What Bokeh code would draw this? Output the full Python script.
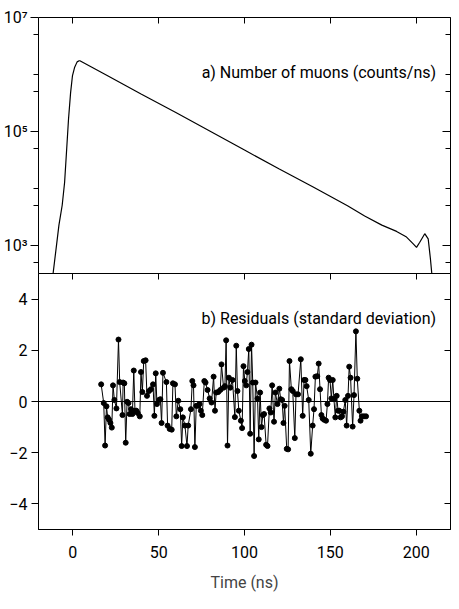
from bokeh.plotting import figure
from bokeh.layouts import column
from bokeh.models import (Range1d, LinearAxis, LogAxis, FixedTicker, Span, Label,
                          ColumnDataSource, CustomJSTickFormatter)
from bokeh.embed import file_html
from bokeh.resources import INLINE

# ---------------- data ----------------
# a) number of muons, counts/ns (log10 of counts read off the log axis)
curve_t = [-11.5, -9.5, -8.1, -6.2, -4.8, -3.7, -2.5, -1.3, -0.2, 1.0, 2.5, 3.7, 4.1,
           20, 40, 60, 80, 100, 120, 140, 160, 170, 180, 188.6, 194.4, 198.3,
           200.2, 202.1, 205.0, 207.0, 208.3, 209.1]
curve_log10 = [2.5, 3.0, 3.35, 3.7, 4.1, 4.63, 5.22, 5.68, 5.98, 6.12, 6.22, 6.24, 6.24,
               5.98, 5.65, 5.33, 5.0, 4.67, 4.34, 4.02, 3.69, 3.51, 3.35, 3.24, 3.14, 3.02,
               2.96, 3.05, 3.2, 3.11, 2.76, 2.5]
curve_counts = [10 ** v for v in curve_log10]

# b) residuals (standard deviation)
res_t = [16.5, 18.0, 18.8, 19.6, 20.3, 21.1, 21.9, 22.7, 23.4, 24.2,
         25.4, 26.6, 27.3, 28.9, 29.3, 30.0, 30.8, 31.6, 32.4, 33.1,
         33.9, 34.7, 35.5, 36.2, 37.0, 37.8, 39.0, 39.7, 40.5, 41.3,
         42.4, 43.2, 44.4, 45.5, 46.7, 47.5, 48.3, 49.0, 50.2, 51.0,
         51.7, 52.5,
         54.5, 55.2, 56.4, 57.6, 58.3, 59.5, 60.3, 61.4, 62.6, 63.4,
         64.1, 65.3, 66.5, 67.2, 68.8, 69.6, 70.3, 71.1, 71.9, 73.1,
         73.8, 74.6, 75.4, 76.6, 77.3, 78.5, 79.7, 80.8, 82.0, 82.8,
         83.5, 84.7, 85.9, 86.6, 87.8, 88.6, 89.3, 90.1, 90.9, 91.7,
         93.0,
         94.4, 95.2, 95.9, 96.7, 97.9, 98.6, 99.4, 100.2, 101.0, 101.7,
         102.5, 103.3, 104.1, 104.8, 105.6, 106.4, 107.6, 108.3, 109.1, 109.9,
         110.7, 111.4, 112.6, 113.4, 114.5, 115.3, 116.1, 117.2, 118.0, 119.2,
         120.3, 121.1, 121.9, 122.7, 123.4, 124.6, 125.4, 126.2, 127.3, 128.1,
         129.3, 130.0, 131.2,
         132.8, 133.9, 134.7, 135.5, 136.2, 137.4, 138.6, 139.7, 140.5, 141.3,
         142.4, 143.2, 144.0, 144.8, 145.5, 146.3, 147.5, 148.3, 149.0, 149.8,
         150.6, 151.4, 152.1, 152.9, 153.7, 154.5, 155.2, 156.0, 156.8, 157.6,
         158.7, 159.5, 160.3, 161.0, 161.8, 163.0, 163.8, 164.9, 165.7, 166.9,
         167.6, 168.4, 169.6, 170.8]
res_v = [0.67, -0.06, -1.72, -0.19, -0.62, -0.71, -0.84, -1.02, 0.63, 0.06,
         -0.27, 2.42, 0.76, -0.53, 0.74, 0.71, -1.61, -0.01, -0.06, -0.49,
         -0.30, -0.49, 1.21, -0.36, -0.36, -0.45, -0.58, 1.15, 0.37, 1.58,
         1.61, 0.22, 0.41, 0.48, 0.67, -0.56, 1.10, -0.10, 0.06, 0.09,
         -0.84, 1.12,
         0.76, -0.94, -1.07, -1.10, 0.71, 0.67, -0.58, 0.03, -0.30, -1.74,
         -0.62, -0.94, -1.74, -0.94, -0.30, 0.80, 0.63, -1.78, -0.17, -0.17,
         -0.10, -0.36, -0.53, 0.80, 0.74, 0.45, 0.12, -0.04, 0.97, -0.36,
         0.35, 0.37, 0.45, 1.45, 0.54, 0.60, 2.39, -1.72, 0.93, 0.54,
         0.84,
         -0.61, 2.18, 0.41, -0.36, -0.75, -1.04, 1.38, 0.80, 0.63, 1.15,
         2.05, -1.26, 2.22, 0.74, -2.13, 0.74, 0.12, -1.48, 0.35, -1.00,
         -0.53, -0.49, -1.69, -1.74, -0.27, -0.43, 0.63, -0.79, 0.35, -0.10,
         0.50, 0.09, 0.06, -0.84, -0.17, -1.85, -1.87, 1.58, 0.48, 0.41,
         -1.43, 0.28, 0.28,
         1.65, -0.56, 0.84, 0.84, 0.60, 0.06, -2.04, -0.94, -0.30, 0.97,
         0.99, 1.48, 0.48, -0.53, -0.66, -0.71, -0.75, -0.10, 0.93, 0.84,
         0.12, 0.84, 0.09, -0.62, 0.22, -0.36, -0.36, -0.62, -0.58, -0.40,
         0.06, -0.94, 0.22, 1.36, 0.93, -0.98, 0.25, 2.74, 0.89, -0.36,
         -0.75, -0.58, -0.58, -0.58]

x_ticks = [0, 50, 100, 150, 200]
top_major = [1e3, 1e5, 1e7]
top_minor = [5e2, 5e3, 1e4, 5e4, 5e5, 1e6, 5e6]
res_ticks = [-4, -2, 0, 2, 4]
label_a = "a) Number of muons (counts/ns)"
label_b = "b) Residuals (standard deviation)"
x_label = "Time (ns)"

FONT = "Roboto"
TICK_FS = "16px"
TXT_FS = "16px"

blank = CustomJSTickFormatter(code="return '';")


def style_axis(ax, tick_in, tick_out, minor_in=0, minor_out=0, labels=True):
    ax.axis_line_color = "black"
    ax.major_tick_line_color = "black"
    ax.minor_tick_line_color = "black"
    ax.major_tick_in = tick_in
    ax.major_tick_out = tick_out
    ax.minor_tick_in = minor_in
    ax.minor_tick_out = minor_out
    ax.major_label_text_font = FONT
    ax.major_label_text_font_size = TICK_FS
    ax.major_label_text_color = "black"
    if not labels:
        ax.formatter = blank
        ax.major_label_standoff = 0
        ax.major_label_text_font_size = "1px"


xr = Range1d(-20, 220)

# ---------------- top panel ----------------
p1 = figure(frame_width=412, frame_height=256, x_range=xr, y_range=Range1d(10 ** 2.5, 1e7),
            y_axis_type="log", x_axis_location=None,
            output_backend="svg", toolbar_location=None,
            min_border_left=37, min_border_right=2, min_border_top=17, min_border_bottom=0)
p1.grid.visible = False
p1.outline_line_color = None
p1.background_fill_color = "white"
p1.border_fill_color = "white"

ly = p1.yaxis[0]
ly.ticker = FixedTicker(ticks=top_major, minor_ticks=top_minor)
ly.formatter = CustomJSTickFormatter(
    code="const s='\u2070\u00b9\u00b2\u00b3\u2074\u2075\u2076\u2077\u2078\u2079';"
         "return '10' + s[Math.round(Math.log10(tick))];")
style_axis(ly, 0, 8, 0, 5)
ly.major_label_standoff = 3

ry = LogAxis(ticker=FixedTicker(ticks=top_major, minor_ticks=top_minor))
style_axis(ry, 8, 0, 5, 0, labels=False)
p1.add_layout(ry, "right")

tx = LinearAxis(ticker=FixedTicker(ticks=x_ticks, minor_ticks=[]))
style_axis(tx, 6, 0, labels=False)
p1.add_layout(tx, "above")

src1 = ColumnDataSource(dict(t=curve_t, c=curve_counts))
p1.line("t", "c", source=src1, line_color="black", line_width=1.2)

p1.add_layout(Label(x=211.6, y=1.08e6, text=label_a, text_align="right",
                    text_baseline="middle", text_font=FONT, text_font_size=TXT_FS,
                    text_color="black"))

# ---------------- bottom panel ----------------
p2 = figure(frame_width=412, frame_height=256, x_range=xr, y_range=Range1d(-5, 5),
            output_backend="svg", toolbar_location=None,
            min_border_left=37, min_border_right=2, min_border_top=0, min_border_bottom=2)
p2.grid.visible = False
p2.outline_line_color = "black"
p2.background_fill_color = "white"
p2.border_fill_color = "white"

ly2 = p2.yaxis[0]
ly2.ticker = FixedTicker(ticks=res_ticks, minor_ticks=[])
ly2.formatter = CustomJSTickFormatter(
    code="return tick < 0 ? '\u2212' + Math.abs(tick) : '' + tick;")
style_axis(ly2, 0, 7)
ly2.major_label_standoff = 4

bx = p2.xaxis[0]
bx.ticker = FixedTicker(ticks=x_ticks, minor_ticks=[])
style_axis(bx, 0, 6)
bx.major_label_standoff = 10
bx.axis_label = x_label
bx.axis_label_text_font = FONT
bx.axis_label_text_font_size = TXT_FS
bx.axis_label_text_font_style = "normal"
bx.axis_label_standoff = 12

ry2 = LinearAxis(ticker=FixedTicker(ticks=res_ticks, minor_ticks=[]))
style_axis(ry2, 6, 0, labels=False)
p2.add_layout(ry2, "right")

tx2 = LinearAxis(ticker=FixedTicker(ticks=x_ticks, minor_ticks=[]))
style_axis(tx2, 6, 0, labels=False)
p2.add_layout(tx2, "above")

p2.add_layout(Span(location=0, dimension="width", line_color="black", line_width=1))

src2 = ColumnDataSource(dict(t=res_t, v=res_v))
p2.line("t", "v", source=src2, line_color="black", line_width=1)
p2.scatter("t", "v", source=src2, size=5, fill_color="black", line_color="black")

p2.add_layout(Label(x=211.6, y=3.26, text=label_b, text_align="right",
                    text_baseline="middle", text_font=FONT, text_font_size=TXT_FS,
                    text_color="black"))

layout = column(p1, p2, spacing=0)
open("out.html", "w").write(file_html(layout, INLINE))
